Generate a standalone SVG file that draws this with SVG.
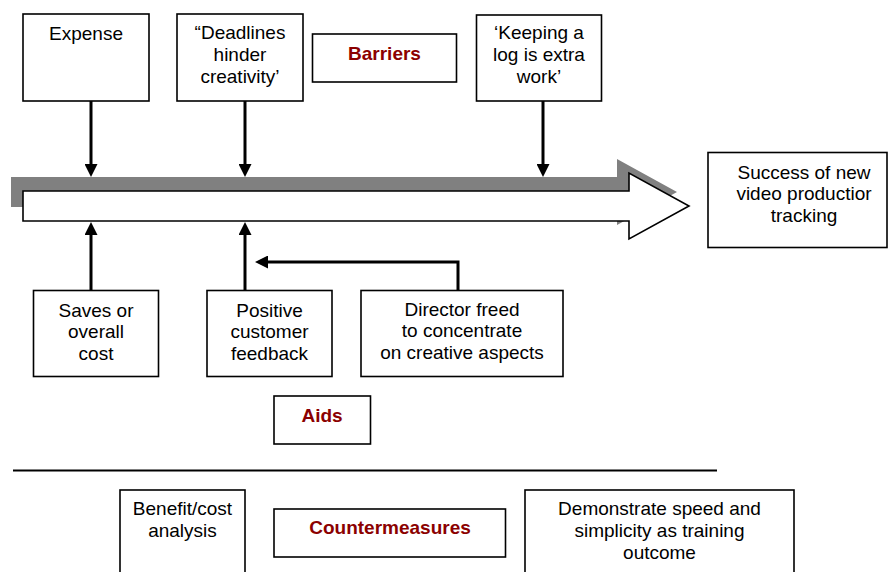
<svg xmlns="http://www.w3.org/2000/svg" width="888" height="572" viewBox="0 0 888 572">
<style>
.box{fill:#fff;stroke:#000;stroke-width:1.6}
.t{font-family:"Liberation Sans",Arial,sans-serif;font-size:19px;fill:#000;text-anchor:middle}
.h{font-family:"Liberation Sans",Arial,sans-serif;font-size:19px;font-weight:bold;fill:#8B0000;text-anchor:middle}
.c{fill:none;stroke:#000;stroke-width:3}
</style>
<defs>
<marker id="ah" viewBox="0 0 13 13" refX="2" refY="6.5" markerWidth="13" markerHeight="13" markerUnits="userSpaceOnUse" orient="auto">
<path d="M0,0 L13,6.5 L0,13 z" fill="#000"/>
</marker>
</defs>
<rect width="888" height="572" fill="#fff"/>

<g id="main-arrow">
<polygon points="11,177 617,177 617,159 677,192 617,225 617,207 11,207" fill="#808080"/>
<polygon points="23,191 629,191 629,173 689,206 629,239 629,221 23,221" fill="#fff" stroke="#000" stroke-width="1.6"/>
</g>

<g id="connectors">
<line class="c" x1="91" y1="101" x2="91" y2="166" marker-end="url(#ah)"/>
<line class="c" x1="245" y1="101" x2="245" y2="166" marker-end="url(#ah)"/>
<line class="c" x1="543" y1="101" x2="543" y2="166" marker-end="url(#ah)"/>
<line class="c" x1="91" y1="290" x2="91" y2="233" marker-end="url(#ah)"/>
<line class="c" x1="245" y1="290" x2="245" y2="233" marker-end="url(#ah)"/>
<polyline class="c" points="458,291 458,262 266,262" marker-end="url(#ah)"/>
<line x1="13" y1="470.5" x2="717" y2="470.5" stroke="#000" stroke-width="2"/>
</g>

<g id="expense">
<rect class="box" x="23" y="14" width="126" height="87"/>
<text class="t" x="86" y="39.5">Expense</text>
</g>
<g id="deadlines">
<rect class="box" x="177" y="14" width="126" height="87"/>
<text class="t" x="240" y="39">“Deadlines</text>
<text class="t" x="240" y="61">hinder</text>
<text class="t" x="240" y="83">creativity’</text>
</g>
<g id="barriers">
<rect class="box" x="312.5" y="34" width="144" height="48"/>
<text class="h" x="384.5" y="60">Barriers</text>
</g>
<g id="keeping">
<rect class="box" x="476.5" y="15" width="125" height="86"/>
<text class="t" x="539" y="39">‘Keeping a</text>
<text class="t" x="539" y="61">log is extra</text>
<text class="t" x="539" y="83">work’</text>
</g>
<g id="success">
<rect class="box" x="708" y="152.5" width="179" height="95"/>
<text class="t" x="804" y="178.5">Success of new</text>
<text class="t" x="804" y="200">video productior</text>
<text class="t" x="804" y="221.5">tracking</text>
</g>
<g id="saves">
<rect class="box" x="33.5" y="290.5" width="125" height="86"/>
<text class="t" x="96" y="316.5">Saves or</text>
<text class="t" x="96" y="338">overall</text>
<text class="t" x="96" y="359.5">cost</text>
</g>
<g id="positive">
<rect class="box" x="207" y="290.5" width="125" height="86"/>
<text class="t" x="269.5" y="316.5">Positive</text>
<text class="t" x="269.5" y="338">customer</text>
<text class="t" x="269.5" y="359.5">feedback</text>
</g>
<g id="director">
<rect class="box" x="361" y="290.5" width="202" height="86"/>
<text class="t" x="462" y="315.5">Director freed</text>
<text class="t" x="462" y="337">to concentrate</text>
<text class="t" x="462" y="359">on creative aspects</text>
</g>
<g id="aids">
<rect class="box" x="274" y="396" width="96.5" height="48"/>
<text class="h" x="322" y="421.5">Aids</text>
</g>
<g id="benefit">
<rect class="box" x="120" y="490" width="125" height="100"/>
<text class="t" x="182.5" y="515">Benefit/cost</text>
<text class="t" x="182.5" y="537">analysis</text>
</g>
<g id="countermeasures">
<rect class="box" x="274" y="509" width="231.5" height="48"/>
<text class="h" x="390" y="534">Countermeasures</text>
</g>
<g id="demonstrate">
<rect class="box" x="525" y="490" width="269" height="100"/>
<text class="t" x="659.5" y="515">Demonstrate speed and</text>
<text class="t" x="659.5" y="537">simplicity as training</text>
<text class="t" x="659.5" y="559">outcome</text>
</g>
</svg>
